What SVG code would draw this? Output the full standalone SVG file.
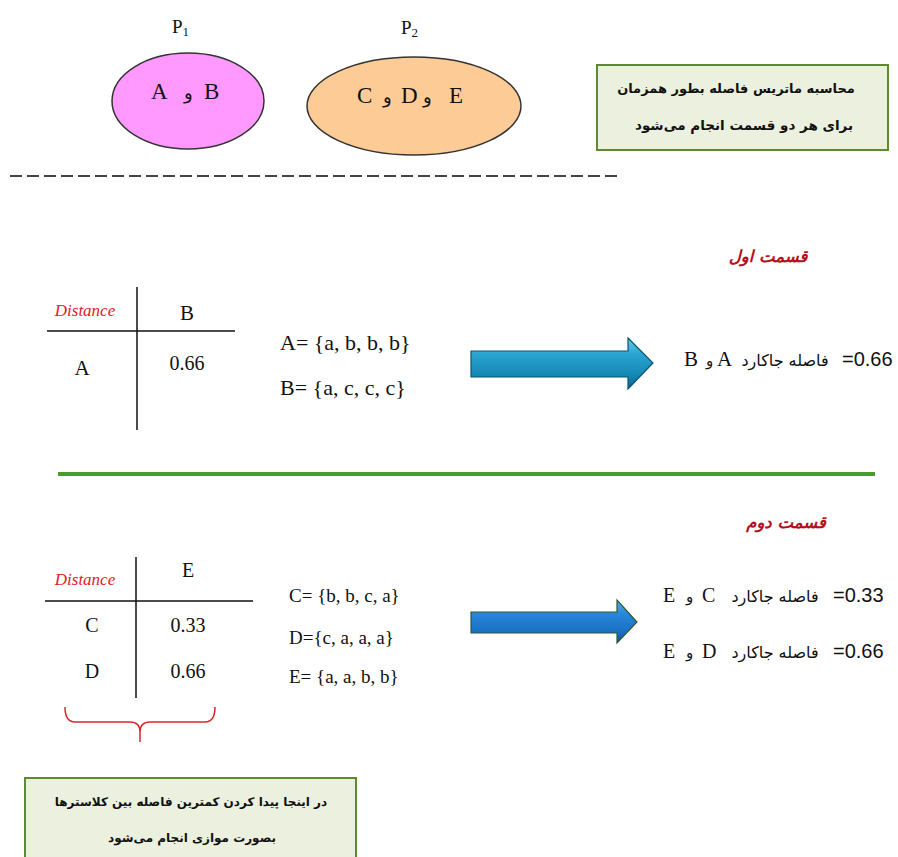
<svg xmlns="http://www.w3.org/2000/svg" width="898" height="857" viewBox="0 0 898 857">
<style>
.serif{font-family:"Liberation Serif","Times New Roman",serif;fill:#111}
.fa{font-family:"DejaVu Sans",sans-serif;fill:#111}
.fab{font-family:"DejaVu Sans",sans-serif;font-weight:bold;fill:#111}
.title{font-family:"DejaVu Sans",sans-serif;font-weight:bold;font-style:italic;fill:#b3121b;font-size:16.5px}
.dist{font-family:"Liberation Serif","Times New Roman",serif;font-style:italic;fill:#e02027;font-size:17px}
.tline{stroke:#111;stroke-width:1.5;fill:none}
.note{fill:#ebf1de;stroke:#5d8a2e;stroke-width:2}
.num{font-family:"Liberation Sans",Arial,sans-serif;fill:#111}
</style>
<defs>
<linearGradient id="g1" x1="0" y1="0" x2="0" y2="1">
<stop offset="0" stop-color="#6fcbe9"/>
<stop offset="0.3" stop-color="#2aa6d2"/>
<stop offset="0.75" stop-color="#1486b3"/>
<stop offset="1" stop-color="#0b5f80"/>
</linearGradient>
<linearGradient id="g2" x1="0" y1="0" x2="0" y2="1">
<stop offset="0" stop-color="#5aaef0"/>
<stop offset="0.3" stop-color="#2a88dc"/>
<stop offset="0.75" stop-color="#1a6fc0"/>
<stop offset="1" stop-color="#10518f"/>
</linearGradient>
</defs>
<rect width="898" height="857" fill="#fff"/>

<g id="p1">
<text x="172" y="33" class="serif" font-size="19">P<tspan font-size="13" dy="3">1</tspan></text>
<ellipse cx="188" cy="101" rx="76" ry="48" fill="#ff99ff" stroke="#333" stroke-width="1.5"/>
<text x="151" y="99" class="serif" font-size="23">A</text>
<text x="184" y="99" class="fa" font-size="18">و</text>
<text x="204" y="99" class="serif" font-size="23">B</text>
</g>

<g id="p2">
<text x="401" y="34" class="serif" font-size="19">P<tspan font-size="13" dy="3">2</tspan></text>
<ellipse cx="414" cy="106" rx="107" ry="49" fill="#fccb96" stroke="#333" stroke-width="1.5"/>
<text x="357" y="103" class="serif" font-size="23">C</text>
<text x="383" y="103" class="fa" font-size="18">و</text>
<text x="401" y="103" class="serif" font-size="23">D</text>
<text x="423" y="103" class="fa" font-size="18">و</text>
<text x="449" y="103" class="serif" font-size="23">E</text>
</g>

<g id="note1">
<rect x="597" y="65" width="291" height="85" class="note"/>
<text x="736" y="93" class="fab" font-size="13" text-anchor="middle">محاسبه ماتریس فاصله بطور همزمان</text>
<text x="744" y="130" class="fab" font-size="13.5" text-anchor="middle">برای هر دو قسمت انجام می&#x200C;شود</text>
</g>

<g id="separators">
<line x1="10" y1="176" x2="620" y2="176" stroke="#444" stroke-width="2" stroke-dasharray="12 5"/>
<line x1="58" y1="474" x2="875" y2="474" stroke="#4a9a2c" stroke-width="4"/>
</g>

<g id="part1">
<text x="768" y="262" class="title" text-anchor="middle">قسمت اول</text>
<g id="table1">
<line x1="137" y1="287" x2="137" y2="430" class="tline"/>
<line x1="47" y1="331" x2="235" y2="331" class="tline"/>
<text x="85" y="316" class="dist" text-anchor="middle">Distance</text>
<text x="187" y="320" class="serif" font-size="21" text-anchor="middle">B</text>
<text x="82" y="375" class="serif" font-size="21" text-anchor="middle">A</text>
<text x="187" y="370" class="serif" font-size="20" text-anchor="middle">0.66</text>
</g>
<g id="sets1">
<text x="280" y="350" class="serif" font-size="22">A= {a, b, b, b}</text>
<text x="280" y="395" class="serif" font-size="22">B= {a, c, c, c}</text>
</g>
<g id="result1">
<text x="684" y="366" class="serif" font-size="21">B</text>
<text x="706" y="366" class="fa" font-size="15">و</text>
<text x="717" y="366" class="serif" font-size="21">A</text>
<text x="785" y="366" class="fa" font-size="16" text-anchor="middle">فاصله جاکارد</text>
<text x="842" y="366" class="num" font-size="20">=0.66</text>
</g>
</g>

<g id="part2">
<text x="786" y="528" class="title" text-anchor="middle">قسمت دوم</text>
<g id="table2">
<line x1="136" y1="557" x2="136" y2="698" class="tline"/>
<line x1="45" y1="601" x2="253" y2="601" class="tline"/>
<text x="85" y="585" class="dist" text-anchor="middle">Distance</text>
<text x="188" y="577" class="serif" font-size="20" text-anchor="middle">E</text>
<text x="92" y="632" class="serif" font-size="20" text-anchor="middle">C</text>
<text x="188" y="632" class="serif" font-size="20" text-anchor="middle">0.33</text>
<text x="92" y="678" class="serif" font-size="20" text-anchor="middle">D</text>
<text x="188" y="678" class="serif" font-size="20" text-anchor="middle">0.66</text>
</g>
<g id="sets2">
<text x="289" y="602" class="serif" font-size="19">C= {b, b, c, a}</text>
<text x="289" y="644" class="serif" font-size="19">D={c, a, a, a}</text>
<text x="289" y="683" class="serif" font-size="19">E= {a, a, b, b}</text>
</g>
<g id="result2">
<text x="663" y="602" class="serif" font-size="20">E</text>
<text x="686" y="602" class="fa" font-size="15">و</text>
<text x="702" y="602" class="serif" font-size="20">C</text>
<text x="775" y="602" class="fa" font-size="16" text-anchor="middle">فاصله جاکارد</text>
<text x="833" y="602" class="num" font-size="20">=0.33</text>
<text x="663" y="658" class="serif" font-size="20">E</text>
<text x="686" y="658" class="fa" font-size="15">و</text>
<text x="702" y="658" class="serif" font-size="20">D</text>
<text x="775" y="658" class="fa" font-size="16" text-anchor="middle">فاصله جاکارد</text>
<text x="833" y="658" class="num" font-size="20">=0.66</text>
</g>
<path id="brace" d="M65,707 Q65,722 75,722 L130,722 Q140,722 140,732 L140,742 M140,732 Q140,722 150,722 L205,722 Q215,722 215,707" fill="none" stroke="#d42a2a" stroke-width="1.5"/>
</g>

<g id="connectors">
<path id="arrow1" d="M471,351 L628,351 L628,338 L653,363 L628,389 L628,377 L471,377 Z" fill="url(#g1)" stroke="#0a5572" stroke-width="1.2" stroke-linejoin="miter"/>
<path id="arrow2" d="M471,612 L617,612 L617,600 L637,622 L617,643 L617,633 L471,633 Z" fill="url(#g2)" stroke="#2e5a32" stroke-width="1.2"/>
</g>

<g id="note2">
<rect x="25" y="778" width="331" height="90" class="note"/>
<text x="191" y="806" class="fab" font-size="12" text-anchor="middle">در اینجا پیدا کردن کمترین فاصله بین کلاسترها</text>
<text x="192" y="842" class="fab" font-size="12" text-anchor="middle">بصورت موازی انجام می&#x200C;شود</text>
</g>
</svg>
